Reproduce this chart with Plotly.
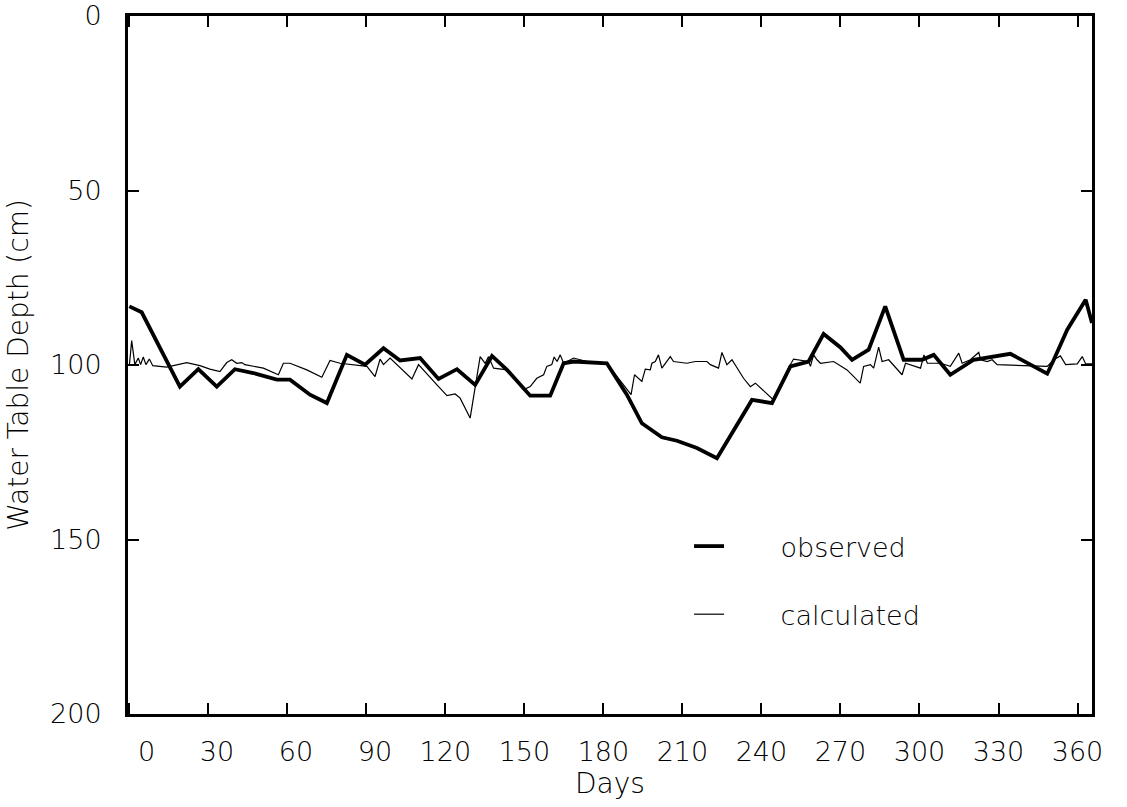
import plotly.graph_objects as go

# Observed water table depth (cm) vs day
obs_day = [0, 4.7, 19.2, 26.2, 33.2, 40.1, 47.1, 56.0, 61.0, 68.6, 75.0, 82.6, 89.5, 96.5,
           102.8, 110.4, 117.4, 124.4, 131.3, 137.7, 143.4, 152.2, 159.8, 164.9, 168.7, 181.3,
           188.9, 194.6, 202.2, 207.9, 215.5, 223.1, 236.4, 244.0, 251.0, 257.9, 263.6, 269.9,
           274.4, 280.7, 287.0, 294.0, 301.0, 305.4, 311.7, 320.6, 334.5, 348.5, 351.0, 356.1,
           363.1, 365.5]
obs_depth = [83.2, 84.9, 106.2, 101.2, 106.2, 101.2, 102.3, 104.2, 104.2, 108.5, 110.9, 97.1,
             99.9, 95.2, 98.7, 98.0, 104.0, 101.2, 105.7, 97.4, 101.4, 108.8, 108.8, 99.5, 99.0,
             99.5, 108.5, 116.7, 120.7, 121.7, 123.8, 126.7, 110.0, 110.9, 100.4, 99.0, 91.1,
             94.9, 98.5, 95.6, 83.2, 98.5, 98.5, 97.1, 102.8, 98.5, 96.8, 102.5, 98.5, 89.9,
             81.3, 88.0]

# Calculated water table depth (cm) vs day
calc_day = [0, 0.9, 2.1, 3.4, 4.3, 5.3, 6.3, 7.6, 8.9, 14.2, 21.8, 26.8, 30.6, 34.4, 37.0,
            38.9, 40.8, 42.7, 43.9, 50.9, 56.6, 58.5, 61.0, 67.4, 73.1, 76.2, 80.0, 85.1,
            90.2, 93.3, 95.2, 96.5, 99.0, 107.3, 109.8, 116.8, 120.6, 123.7, 125.6, 129.4,
            131.3, 133.2, 135.1, 136.4, 138.3, 143.4, 149.7, 152.2, 154.7, 157.3, 158.5,
            160.4, 161.3, 162.4, 163.6, 164.9, 168.7, 176.3, 181.3, 190.5, 191.8, 194.6,
            195.9, 197.8, 198.4, 199.7, 200.9, 202.2, 205.4, 206.6, 211.7, 214.9, 219.3,
            220.6, 223.7, 225.0, 226.9, 228.8, 233.2, 235.8, 237.7, 244.6, 250.5, 252.2,
            257.9, 258.6, 259.8, 261.1, 262.4, 267.4, 272.5, 277.5, 278.8, 281.4, 282.6,
            284.5, 285.8, 288.3, 293.4, 294.7, 300.4, 301.7, 303.0, 308.0, 311.7, 314.9,
            316.2, 319.3, 322.5, 323.2, 325.7, 327.6, 329.5, 348.5, 351.0, 353.5, 355.5,
            359.9, 361.8, 363.1, 365.5]
calc_depth = [100.2, 93.0, 99.9, 98.0, 99.9, 97.7, 99.9, 98.3, 100.2, 100.6, 99.3, 100.2,
              101.2, 101.9, 99.3, 98.5, 99.5, 99.3, 99.9, 100.9, 102.8, 99.5, 99.5, 101.4,
              103.5, 98.7, 99.5, 99.9, 100.4, 103.3, 98.3, 99.9, 98.0, 104.0, 99.9, 105.7,
              108.8, 108.3, 109.5, 115.2, 105.7, 97.6, 99.5, 97.6, 100.9, 101.4, 107.1,
              106.2, 103.8, 102.8, 100.4, 99.9, 97.7, 99.0, 97.1, 99.5, 98.0, 99.5, 99.5,
              108.5, 102.8, 104.7, 101.2, 101.4, 99.5, 99.0, 97.1, 100.9, 97.6, 99.0, 99.5,
              99.0, 99.0, 99.9, 100.9, 96.4, 99.9, 98.5, 103.8, 106.2, 105.2, 110.0, 100.5,
              98.3, 99.0, 100.4, 97.1, 98.5, 99.5, 99.0, 101.4, 105.2, 100.4, 99.9, 100.9,
              94.9, 99.0, 98.5, 102.8, 99.5, 100.9, 97.1, 99.5, 99.5, 100.4, 96.6, 99.5,
              98.5, 96.4, 98.5, 99.0, 98.5, 99.9, 100.4, 98.5, 97.4, 99.9, 99.7, 97.6,
              99.7, 99.7]

x_ticks = [0, 30, 60, 90, 120, 150, 180, 210, 240, 270, 300, 330, 360]
y_ticks = [0, 50, 100, 150, 200]

FS = "\u2007"
x_ticktext = [FS * (3 - len(str(v))) + str(v) for v in x_ticks]

fig = go.Figure()
fig.add_trace(go.Scatter(x=obs_day, y=obs_depth, mode="lines",
                         name=FS * 3 + "observed", legendgroup="a",
                         line=dict(color="black", width=3.8)))
fig.add_trace(go.Scatter(x=calc_day, y=calc_depth, mode="lines",
                         name=FS * 3 + "calculated", legendgroup="b",
                         line=dict(color="black", width=1.2)))

font = "DejaVu Sans"
lt = 200
fig.update_layout(
    width=1127, height=807,
    margin=dict(l=128, r=35, t=16, b=93, autoexpand=False),
    paper_bgcolor="white", plot_bgcolor="white",
    font=dict(family=font, size=26, color="black", weight=lt),
    showlegend=True,
    legend=dict(x=0.582, y=0.275, xanchor="left", yanchor="top",
                bgcolor="rgba(0,0,0,0)", borderwidth=0,
                font=dict(family=font, size=27, color="black", weight=lt),
                tracegroupgap=30),
    xaxis=dict(range=[-0.5, 365.5], tickvals=x_ticks, ticktext=x_ticktext,
               ticks="inside", ticklen=11, tickwidth=2, tickcolor="black",
               showline=True, linewidth=3, linecolor="black", mirror="ticks",
               showgrid=False, zeroline=False, ticklabelstandoff=12, automargin=False,
               tickfont=dict(family=font, size=27, weight=lt),
               title=dict(text="Days", font=dict(family=font, size=28, weight=lt), standoff=4)),
    yaxis=dict(range=[200, 0], tickvals=y_ticks,
               ticks="inside", ticklen=11, tickwidth=2, tickcolor="black",
               showline=True, linewidth=3, linecolor="black", mirror="ticks",
               showgrid=False, zeroline=False, ticklabelstandoff=18, automargin=False,
               tickfont=dict(family=font, size=27, weight=lt),
               title=dict(text="Water Table Depth (cm)", font=dict(family=font, size=28, weight=lt),
                          standoff=14)),
)

fig.write_html("out.html")
